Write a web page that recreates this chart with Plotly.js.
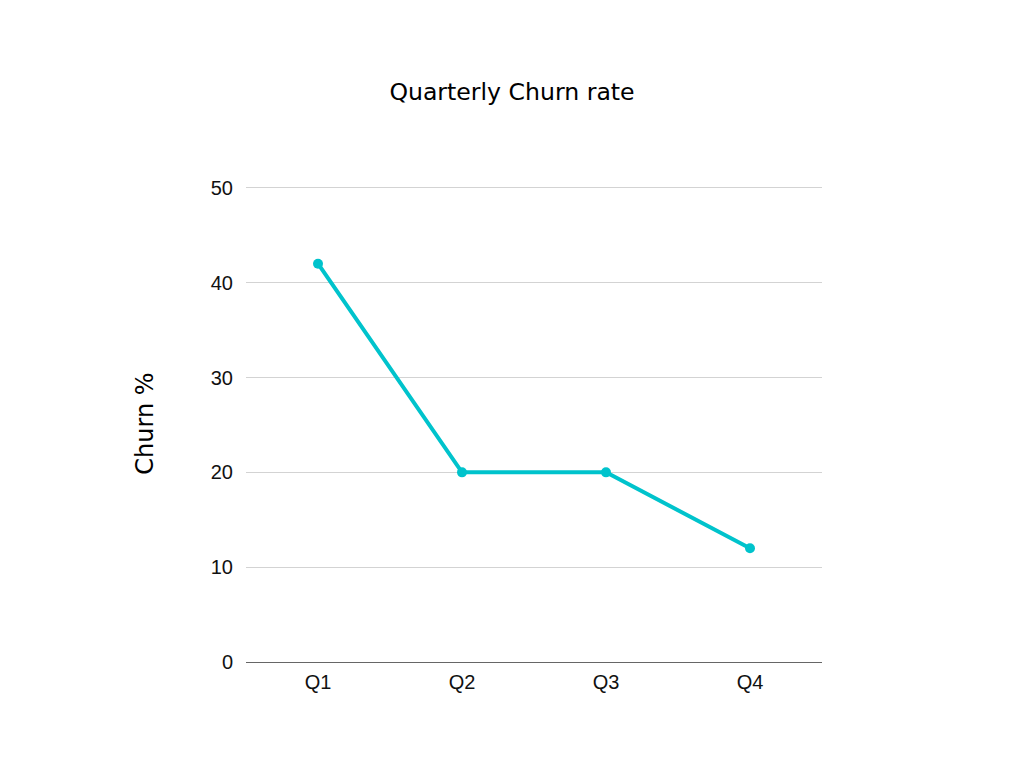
<!DOCTYPE html>
<html>
<head>
<meta charset="utf-8">
<script src="https://cdn.plot.ly/plotly-3.0.1.min.js"></script>
<style>
  html, body { margin: 0; padding: 0; background: #fff; }
  #chart { width: 1024px; height: 768px; }
</style>
</head>
<body>
<div id="chart"></div>
<script>
// quarters and churn rate (%)
const quarters = ['Q1', 'Q2', 'Q3', 'Q4'];
const churn = [42, 20, 20, 12];
const yTicks = [0, 10, 20, 30, 40, 50];

const trace = {
    x: quarters,
    y: churn,
    type: 'scatter',
    mode: 'lines+markers',
    line: { color: '#00c3cc', width: 4 },
    marker: { color: '#00c3cc', size: 10 },
    hoverinfo: 'x+y'
};

const layout = {
    width: 1024,
    height: 768,
    paper_bgcolor: '#ffffff',
    plot_bgcolor: '#ffffff',
    showlegend: false,
    margin: { l: 246, r: 202, t: 185, b: 106 },
    title: {
        text: 'Quarterly Churn rate',
        font: { family: '"DejaVu Sans", sans-serif', size: 23.6, color: '#000' },
        x: 0.5,
        xref: 'container',
        xanchor: 'center',
        y: 1 - 92 / 768,
        yanchor: 'middle'
    },
    xaxis: {
        type: 'category',
        range: [-0.5, 3.5],
        showgrid: false,
        showline: false,
        zeroline: false,
        ticks: '',
        ticklabelstandoff: 6,
        tickfont: { family: '"Liberation Sans", Arial, sans-serif', size: 20, color: '#111' },
        fixedrange: true
    },
    yaxis: {
        range: [0, 50.3],
        tickvals: yTicks,
        ticktext: yTicks.map(String),
        showgrid: true,
        gridcolor: '#d3d3d3',
        gridwidth: 1,
        zeroline: true,
        zerolinecolor: '#666666',
        zerolinewidth: 1,
        showline: false,
        ticks: '',
        ticklabelstandoff: 12,
        tickfont: { family: '"Liberation Sans", Arial, sans-serif', size: 20, color: '#111' },
        title: {
            text: 'Churn %',
            font: { family: '"DejaVu Sans", sans-serif', size: 24, color: '#000' },
            standoff: 50
        },
        automargin: true,
        fixedrange: true
    }
};

Plotly.newPlot('chart', [trace], layout, { displayModeBar: false, staticPlot: true });
</script>
</body>
</html>
